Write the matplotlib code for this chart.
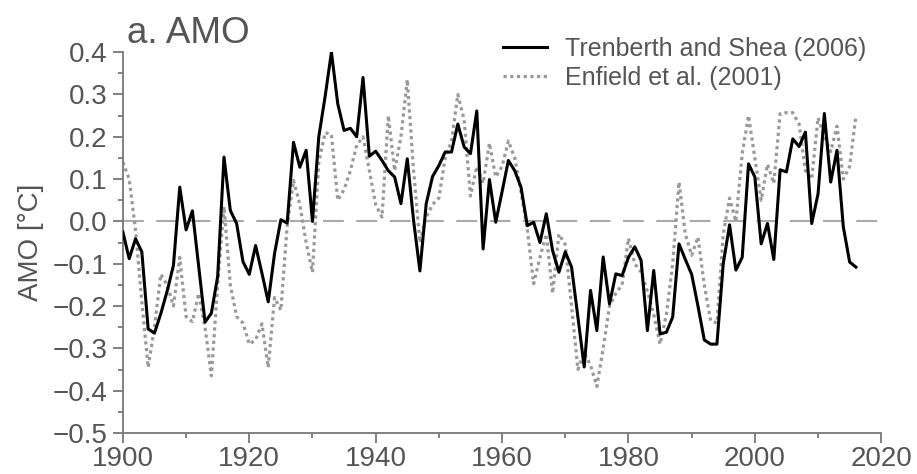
import matplotlib
matplotlib.use('Agg')
import matplotlib.pyplot as plt
from matplotlib.ticker import MultipleLocator, FuncFormatter

plt.rcParams['font.family'] = ['Liberation Sans', 'DejaVu Sans']

years = list(range(1900, 2017))

# Trenberth and Shea (2006), annual values
trenberth = [
    -0.025, -0.088, -0.041, -0.072, -0.254, -0.264, -0.218, -0.165, -0.104, 0.081,
    -0.020, 0.025, -0.107, -0.238, -0.217, -0.130, 0.152, 0.026, -0.005, -0.095,
    -0.125, -0.057, -0.122, -0.190, -0.076, 0.004, -0.004, 0.187, 0.128, 0.168,
    0.000, 0.200, 0.295, 0.400, 0.278, 0.215, 0.220, 0.200, 0.340, 0.154,
    0.166, 0.144, 0.120, 0.105, 0.042, 0.148, 0.002, -0.117, 0.042, 0.106,
    0.132, 0.164, 0.164, 0.230, 0.176, 0.160, 0.261, -0.065, 0.099, -0.002,
    0.070, 0.144, 0.120, 0.081, -0.010, -0.002, -0.050, 0.018, -0.069, -0.120,
    -0.072, -0.108, -0.226, -0.344, -0.163, -0.258, -0.084, -0.195, -0.124, -0.128,
    -0.085, -0.060, -0.092, -0.258, -0.116, -0.266, -0.262, -0.226, -0.053, -0.090,
    -0.125, -0.200, -0.280, -0.290, -0.290, -0.100, -0.008, -0.115, -0.085, 0.136,
    0.105, -0.053, -0.005, -0.090, 0.122, 0.117, 0.195, 0.177, 0.211, -0.005,
    0.065, 0.255, 0.093, 0.168, -0.013, -0.096, -0.108,
]

# Enfield et al. (2001)
enfield = [
    0.140, 0.100, -0.020, -0.190, -0.345, -0.250, -0.125, -0.150, -0.200, -0.085,
    -0.225, -0.237, -0.170, -0.250, -0.365, -0.150, 0.035, -0.150, -0.225, -0.240,
    -0.290, -0.280, -0.242, -0.345, -0.180, -0.210, -0.010, 0.097, 0.040, -0.050,
    -0.120, 0.140, 0.210, 0.205, 0.050, 0.075, 0.120, 0.180, 0.200, 0.120,
    0.040, 0.010, 0.250, 0.120, 0.200, 0.335, 0.120, -0.050, 0.010, 0.040,
    0.055, 0.150, 0.190, 0.300, 0.240, 0.060, 0.130, 0.090, 0.185, 0.105,
    0.130, 0.190, 0.150, 0.070, -0.020, -0.147, -0.085, -0.030, -0.170, -0.030,
    -0.055, -0.200, -0.350, -0.310, -0.340, -0.390, -0.300, -0.200, -0.170, -0.150,
    -0.040, -0.100, -0.120, -0.165, -0.220, -0.290, -0.220, -0.100, 0.093, -0.030,
    -0.080, -0.037, -0.150, -0.235, -0.240, -0.030, 0.055, 0.000, 0.160, 0.250,
    0.150, 0.050, 0.135, 0.090, 0.255, 0.257, 0.257, 0.230, 0.120, 0.100,
    0.245, 0.200, 0.165, 0.225, 0.100, 0.130, 0.250,
]

grey_txt = '#555555'
grey_ax = '#777777'

fig = plt.figure(figsize=(9.17, 4.74), dpi=100)
ax = fig.add_axes([0.134, 0.0865, 0.827, 0.8035])

ax.axhline(0, color='#aaaaaa', lw=1.5, dashes=(10, 6), zorder=1)
ax.plot(years, enfield, color='#999999', lw=2.3, dashes=(1, 1.1),
        label='Enfield et al. (2001)', zorder=2)
ax.plot(years, trenberth, color='black', lw=2.2, label='Trenberth and Shea (2006)',
        zorder=3)

ax.set_xlim(1900, 2020)
ax.set_ylim(-0.5, 0.4)
ax.xaxis.set_major_locator(MultipleLocator(20))
ax.xaxis.set_minor_locator(MultipleLocator(10))
ax.yaxis.set_major_locator(MultipleLocator(0.1))
ax.yaxis.set_minor_locator(MultipleLocator(0.05))
ax.yaxis.set_major_formatter(FuncFormatter(lambda v, p: ('%.1f' % v).replace('-', '\u2212')
                                           if abs(v) > 1e-9 else '0.0'))

for s in ['top', 'right']:
    ax.spines[s].set_visible(False)
for s in ['left', 'bottom']:
    ax.spines[s].set_color(grey_ax)
    ax.spines[s].set_linewidth(1.3)

ax.tick_params(which='major', length=7, width=1.3, color=grey_ax, labelcolor=grey_txt,
               labelsize=20)
ax.tick_params(which='minor', length=3.5, width=1.3, color=grey_ax)
ax.tick_params(axis='x', which='major', pad=2.5)
ax.tick_params(axis='y', which='major', pad=4)

ax.set_ylabel('AMO [°C]', fontsize=20, color=grey_txt, labelpad=6)

handles, labels = ax.get_legend_handles_labels()
leg = ax.legend(handles[::-1], labels[::-1], loc='upper left',
                bbox_to_anchor=(0.501, 1.04), frameon=False, fontsize=18,
                handlelength=1.75, handletextpad=0.75, labelspacing=0.2,
                borderpad=0, borderaxespad=0)
for t in leg.get_texts():
    t.set_color(grey_txt)

fig.text(127 / 917, 1 - 43 / 474, 'a. AMO', fontsize=26.5, color=grey_txt,
         va='baseline', ha='left')

fig.savefig('out.png', dpi=100)
